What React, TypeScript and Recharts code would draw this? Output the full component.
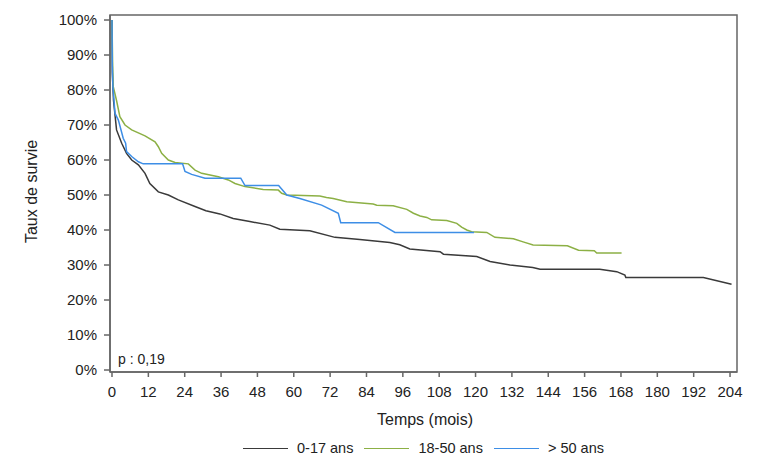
import React from 'react'
import { LineChart, Line, XAxis, YAxis, ReferenceArea, Legend } from 'recharts'

// Kaplan-Meier curves: months and survival (%)
const kidsMonths = [0, 0.1, 0.5, 1.5, 3.2, 4.8, 6.5, 8.7, 10.9, 12.5, 15.3, 18.6, 21.9, 27.4, 31, 35.6, 40, 45.5, 52.1, 55.4, 65.3, 73.6, 81.8, 91.7, 95, 98.3, 108.3, 109.4, 120.4, 124.8, 131.4, 138.9, 141.3, 161, 166.6, 169.3, 169.6, 195.2, 204.5]
const kidsSurvival = [100, 85, 77, 68.6, 64.8, 61.9, 60, 58.6, 56.2, 53.3, 50.9, 50, 48.6, 46.7, 45.5, 44.6, 43.3, 42.4, 41.4, 40.2, 39.8, 37.9, 37.3, 36.4, 35.8, 34.6, 33.8, 33.1, 32.4, 31, 30, 29.3, 28.8, 28.8, 28.1, 27.1, 26.4, 26.4, 24.5]

const adultMonths = [0, 0.2, 0.4, 1.5, 2.6, 4.3, 6.5, 10.9, 14.2, 15.3, 16.4, 18.6, 20.8, 25.2, 27.4, 29.6, 35.1, 38.4, 40.6, 43.9, 49.9, 54.9, 56, 57.7, 68.6, 70.8, 73, 77.5, 86.2, 87.4, 92.8, 97.3, 99.5, 101.7, 103.9, 105.5, 110.5, 113.8, 115.4, 117.1, 118.7, 123.7, 126.4, 132.5, 135.7, 139, 150.3, 154, 159.2, 160, 168.2]
const adultSurvival = [100, 88, 81, 77, 72.4, 70, 68.6, 66.9, 65.2, 63.8, 61.9, 60, 59.3, 58.9, 57.1, 56.2, 55.2, 54.3, 53.3, 52.4, 51.6, 51.4, 50.5, 50, 49.7, 49.3, 49, 48.1, 47.4, 47.1, 46.9, 45.9, 44.8, 44, 43.6, 42.9, 42.7, 41.9, 40.8, 40, 39.5, 39.3, 37.9, 37.5, 36.6, 35.7, 35.5, 34.2, 34.1, 33.4, 33.4]

const seniorMonths = [0, 0.1, 0.3, 1, 2.1, 3.7, 4.5, 4.8, 6.5, 8.7, 10.3, 23.3, 24.1, 26.3, 30.7, 42.5, 43.9, 55, 57.7, 62, 69.2, 74.7, 75.5, 87.9, 93.4, 119.5]
const seniorSurvival = [100, 87, 81, 73.3, 71.4, 66.2, 64.8, 62.4, 61, 59.5, 58.9, 58.9, 56.7, 55.9, 54.8, 54.8, 52.7, 52.7, 50, 49, 47.1, 44.8, 42.1, 42.1, 39.3, 39.3]

const groupNames = ['0-17 ans', '18-50 ans', '> 50 ans']
const groupColors = ['#3a3a3a', '#8cb045', '#3d8ee6']

const monthTicks = [0, 12, 24, 36, 48, 60, 72, 84, 96, 108, 120, 132, 144, 156, 168, 180, 192, 204]
const pctTicks = [0, 10, 20, 30, 40, 50, 60, 70, 80, 90, 100]

const toPoints = (months: number[], surv: number[]) => months.map((t, i) => ({ t, s: surv[i] }))

const series = [
  toPoints(kidsMonths, kidsSurvival),
  toPoints(adultMonths, adultSurvival),
  toPoints(seniorMonths, seniorSurvival),
]

const FONT = '"Liberation Sans", Arial, sans-serif'
const X_MIN = -0.66
const X_MAX = 206.3
const Y_MIN = -0.57
const Y_MAX = 101.43

function YTitle(props: any) {
  const vb = props.viewBox
  const x = vb.x + 36.5
  const y = vb.y + vb.height / 2 - 2
  return (
    <text x={x} y={y} transform={`rotate(-90 ${x} ${y})`} textAnchor="middle" fontSize={16} fontFamily={FONT} fill="#222">
      Taux de survie
    </text>
  )
}

function XTitle(props: any) {
  const vb = props.viewBox
  return (
    <text x={vb.x + vb.width / 2 + 1.5} y={vb.y + 53} textAnchor="middle" fontSize={16} fontFamily={FONT} fill="#222">
      Temps (mois)
    </text>
  )
}

function LegendRow() {
  return (
    <div style={{ display: 'flex', justifyContent: 'center', alignItems: 'center', height: 20, fontFamily: FONT, fontSize: 14.5, color: '#222' }}>
      {groupNames.map((name, i) => (
        <div key={name} style={{ display: 'flex', alignItems: 'center', marginRight: i < groupNames.length - 1 ? 11 : 0 }}>
          <span style={{ display: 'inline-block', width: 45, height: 0, borderTop: `1.5px solid ${groupColors[i]}`, marginRight: 9 }} />
          <span>{name}</span>
        </div>
      ))}
    </div>
  )
}

export default function App() {
  const tickStyle = { fontSize: 15, fontFamily: FONT, fill: '#222' }
  return (
    <div style={{ position: 'absolute', left: 0, top: 0, background: '#fff' }}>
      <LineChart width={770} height={465} margin={{ top: 15, right: 33, left: 0, bottom: 0 }}>
        <XAxis
          dataKey="t"
          type="number"
          domain={[X_MIN, X_MAX]}
          ticks={monthTicks}
          interval={0}
          height={93}
          tickSize={5}
          tickMargin={9}
          tick={tickStyle}
          stroke="#666"
          strokeWidth={1.5}
          label={{ content: XTitle }}
        />
        <YAxis
          type="number"
          domain={[Y_MIN, Y_MAX]}
          ticks={pctTicks}
          interval={0}
          width={110}
          tickSize={6}
          tickMargin={7}
          tick={tickStyle}
          tickFormatter={(v: number) => `${v}%`}
          stroke="#666"
          strokeWidth={1.5}
          label={{ content: YTitle }}
        />
        <ReferenceArea
          x1={X_MIN}
          x2={X_MAX}
          y1={Y_MIN}
          y2={Y_MAX}
          fill="none"
          stroke="#666"
          strokeWidth={1.5}
          label={{ value: 'p : 0,19', position: 'insideBottomLeft', offset: 8, fontSize: 14, fontFamily: FONT, fill: '#222' }}
        />
        {series.map((pts, i) => (
          <Line
            key={groupNames[i]}
            data={pts}
            dataKey="s"
            name={groupNames[i]}
            type="linear"
            stroke={groupColors[i]}
            strokeWidth={1.5}
            dot={false}
            activeDot={false}
            isAnimationActive={false}
          />
        ))}
        <Legend
          layout="horizontal"
          verticalAlign="middle"
          align="center"
          wrapperStyle={{ top: 438, left: 110, width: 627 }}
          content={() => <LegendRow />}
        />
      </LineChart>
    </div>
  )
}
